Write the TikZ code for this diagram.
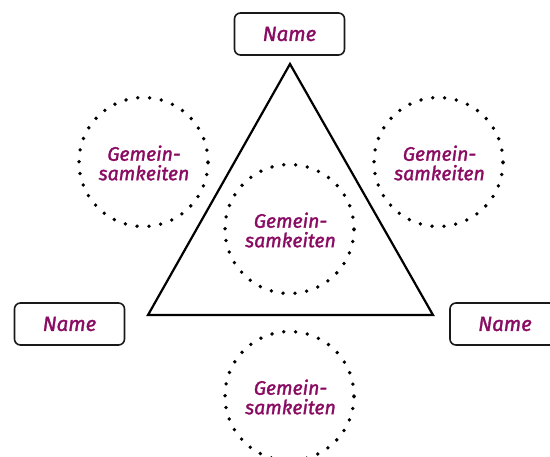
\documentclass[tikz,border=0pt]{standalone}
\usepackage{fontspec}
\setmainfont{Fira Sans}
\newfontfamily\labfont{Fira Sans}[FakeBold=1.6]
\definecolor{lab}{HTML}{8A0C62}
\begin{document}
\begin{tikzpicture}[x=1pt,y=-1pt,
  namebox/.style={draw=black!90, line width=1.6pt, rounded corners=6pt, minimum width=110pt, minimum height=42pt, inner sep=0pt, text=lab, font=\labfont\itshape\fontsize{20.5}{22}\selectfont},
  gem/.style={circle, minimum size=128pt, inner sep=0pt, align=center, text=lab, font=\labfont\itshape\fontsize{19.5}{19.5}\selectfont},
  dotring/.style={line width=3.8pt, line cap=round, dash pattern=on 0pt off 11.9pt}
]
\useasboundingbox (0,0) rectangle (550,457);
\node[namebox] (top) at (289.5,34) {Name};
\node[namebox] (left) at (69.5,324) {Name};
\node[namebox] (right) at (505,324) {Name};
\coordinate (A) at (290,64);
\coordinate (B) at (148,315);
\coordinate (C) at (433,315);
\draw[line width=2.2pt, line join=miter] (A) -- (B) -- (C) -- cycle;
\node[gem] (g1) at (144,163) {Gemein-\\samkeiten};
\node[gem] (g2) at (439.5,163) {Gemein-\\samkeiten};
\node[gem] (g3) at (290.5,230) {Gemein-\\samkeiten};
\node[gem] (g4) at (290.5,397) {Gemein-\\samkeiten};
\draw[dotring] (143.5,162) circle[radius=64.5pt];
\draw[dotring] (438.5,162) circle[radius=64.5pt];
\draw[dotring] (289.5,229) circle[radius=64.5pt];
\draw[dotring] (289.5,396) circle[radius=64.5pt];
\end{tikzpicture}
\end{document}
